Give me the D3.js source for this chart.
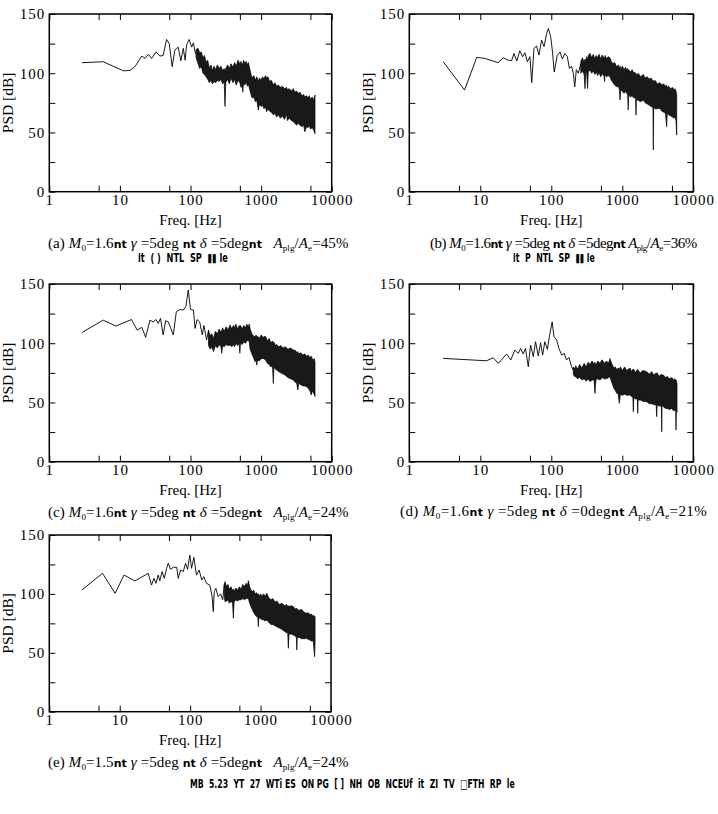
<!DOCTYPE html>
<meta charset="utf-8">
<style>
body { margin: 0; background: #fff; }
svg text { font-family: "Liberation Serif", serif; fill: #000; white-space: pre; }
.axis path { display: none; }
.axis line { stroke: #000; stroke-width: 1; }
.axis text { font-size: 15px; letter-spacing: 1px; }
.frame { fill: none; stroke: #000; stroke-width: 1.5; }
.psd { fill: none; stroke: #000; stroke-width: 0.9; }
.band { fill: #000; fill-opacity: 0.9; stroke: #000; stroke-width: 0.7; stroke-linejoin: miter; }
.nt { font-family: "DejaVu Sans", sans-serif; font-weight: bold; font-size: 11px; }
</style>
<body>
<script src="https://cdn.jsdelivr.net/npm/d3@7"></script>
<script>
// tick labels
var xMajor = [1, 10, 100, 1000, 10000];
var xMinor = [5, 50, 500, 5000];
var yMajor = [0, 50, 100, 150];
var yMinor = [25, 75, 125];

// (a) low frequency line, then the dense part as a band (freq, hi, lo)
var lineF_a = [2.9, 5.8, 11.2, 13.9, 16.3, 20.4, 22.7, 25.3, 28.1, 32.5, 36.8, 41, 45.8, 50, 55, 60, 67, 73, 79, 84, 88, 96, 104, 110, 116, 120];
var lineV_a = [108.9, 109.7, 102, 102.4, 105.5, 114.5, 112.5, 116, 112.5, 118, 114.5, 115, 128.5, 125, 105.5, 119.5, 122, 110.5, 121, 111, 124, 128.5, 122, 125.7, 118, 116];
var bandF_a = [120, 128, 135, 142, 150, 158, 166, 175, 185, 195, 205, 215, 228, 240, 255, 270, 285, 300, 308, 316, 335, 355, 375, 400, 420, 445, 470, 500, 520, 540, 550, 565, 590, 615, 640, 660, 690, 720, 750, 790, 830, 870, 912, 950, 1000, 1050, 1100, 1150, 1197, 1250, 1320, 1400, 1480, 1570, 1660, 1760, 1870, 2000, 2150, 2300, 2350, 2500, 2700, 2860, 3000, 3180, 3350, 3550, 3800, 4000, 4170, 4400, 4600, 4800, 5000, 5300, 5550, 5800];
var bandHi_a = [120, 121, 117, 118, 113, 115, 109, 111, 104, 107, 102, 106, 103, 107, 104, 106, 102, 104, 101, 104, 107, 104, 108, 105, 109, 106, 111, 108, 110, 107, 108, 111, 108, 110, 107, 109, 104, 99, 96, 98, 94, 97, 93, 96, 94, 97, 95, 98, 96, 97, 93, 94, 90, 92, 89, 90, 88, 89, 87, 88, 86, 87, 85, 87, 84, 85, 83, 84, 81, 82, 80, 81, 79, 81, 78, 80, 77, 81.6];
var bandLo_a = [113, 108, 104, 106, 100, 99, 97, 95, 92, 94, 91, 93, 92, 94, 93, 95, 91, 93, 72, 92, 95, 91, 96, 92, 95, 90, 94, 92, 88, 90, 84, 92, 90, 93, 89, 91, 86, 82, 79, 80, 76, 77, 69, 74, 72, 73, 70, 72, 67.5, 70, 68, 67, 65, 66, 63, 65, 62, 64, 61, 66, 60, 62, 60, 59, 58, 56, 58, 56, 55, 56, 50.6, 55, 54, 56, 53, 54, 52, 49];

// (b)
var lineF_b = [3.0, 6.0, 8.9, 11.6, 17.9, 21, 24.8, 27.6, 29.8, 32.6, 36, 39.4, 42.5, 46, 50, 53, 57, 62, 67, 73, 79, 86, 91, 98, 104, 110, 121, 133, 143, 155, 168, 180, 193, 204, 214, 225, 240, 260];
var lineV_b = [109.7, 85.8, 113.4, 112.5, 108.9, 113, 111, 110.5, 116.7, 110.3, 119, 114, 117.3, 109.7, 114, 92, 121, 123, 115.3, 128, 122.4, 133.6, 137.8, 130.8, 118, 101, 115, 118, 112, 116.7, 114, 104, 106, 100, 88.6, 103, 100, 108];
var bandF_b = [260, 275, 290, 298, 306, 315, 324, 332, 351, 370, 390, 410, 430, 450, 470, 495, 520, 540, 552, 562, 572, 600, 630, 671, 700, 740, 780, 834, 880, 910, 930, 950, 1000, 1060, 1110, 1153, 1190, 1210, 1230, 1300, 1380, 1450, 1500, 1540, 1560, 1580, 1680, 1800, 1977, 2100, 2250, 2400, 2550, 2700, 2735, 2770, 2900, 3100, 3390, 3600, 3850, 4050, 4220, 4290, 4500, 4800, 5100, 5350, 5520, 5700, 5840];
var bandHi_b = [110, 113, 109, 112, 110, 114, 111, 115, 116.8, 113, 116, 112, 115, 113, 116, 112, 115.3, 113, 114, 111, 115, 112, 114, 113, 110, 108, 109, 105.5, 107, 104, 106, 103, 106, 103, 105, 103, 104, 101, 103, 101, 103, 100, 101, 99, 100, 98, 100, 97, 99, 96, 97, 95, 96, 93, 94, 92, 94, 91, 92, 90, 91, 89, 90, 88, 89, 87, 88, 86, 87, 85, 81.6];
var bandLo_b = [100, 102, 99, 87, 100, 101, 87, 101, 103, 100, 102, 99, 101, 98, 101, 97, 100, 98, 99, 92.8, 99, 97, 98, 97, 94, 92, 90, 88.6, 89, 86, 77.4, 86, 85, 83, 85, 83, 82, 69, 82, 80, 81, 79, 80, 78, 64.7, 78, 77, 76, 77.4, 75, 74, 73, 72, 71, 35.2, 71, 70, 70, 70.4, 68, 67, 66, 54.9, 66, 65, 64, 63, 62, 63.3, 60, 47.8];

// (c)
var lineF_c = [2.9, 5.8, 8.8, 14.6, 17.6, 20.4, 23.2, 26.6, 29.6, 32.5, 34.9, 37.6, 41, 44.4, 48.4, 52, 57, 63, 70.7, 79, 86, 93, 100, 110, 116, 124, 135, 147, 155, 169, 180];
var lineV_c = [109, 119.5, 114.5, 120, 111, 113.4, 105, 119.5, 118, 120, 116.7, 121, 107, 119, 118, 113.4, 107, 126.6, 128.5, 128, 131, 145, 128.5, 128, 112.5, 120, 118, 107, 115, 102.7, 111];
var bandF_c = [180, 190, 200, 212, 225, 240, 255, 270, 277, 285, 300, 320, 340, 363, 385, 405, 420, 440, 465, 490, 500, 510, 540, 570, 600, 630, 659, 680, 700, 740, 780, 820, 850, 870, 890, 940, 1000, 1075, 1150, 1230, 1300, 1380, 1450, 1490, 1520, 1600, 1660, 1780, 1900, 2050, 2200, 2400, 2600, 2860, 3050, 3200, 3310, 3420, 3650, 3900, 4150, 4420, 4650, 4900, 5130, 5300, 5500, 5650, 5800];
var bandHi_c = [111, 106, 108, 104, 110, 108, 112, 109, 111, 113, 110, 114, 111, 115.4, 112, 115, 113, 116, 112, 115, 113, 115, 112, 115, 113, 116, 114, 116.2, 112, 108, 106, 105.5, 107, 104, 106, 104, 107, 105, 106, 102, 104, 100, 102, 100, 101, 98, 99, 97, 98, 96, 97, 95, 96, 94.3, 94, 92, 93, 91, 92, 90, 91, 89, 90, 88, 89, 87, 86, 87, 84.4];
var bandLo_c = [98, 95, 97, 93, 98, 96, 99, 97, 91.5, 98, 97, 99, 98, 98.5, 97, 99, 97, 100, 98, 100, 91.5, 100, 99, 101, 100, 102, 102.7, 101, 95, 91, 88, 84.4, 86, 81.6, 86, 85, 87, 87.2, 86, 83, 82, 80, 81, 66, 80, 78, 77.4, 76, 75, 74, 73, 71, 70, 69, 67, 66, 60.5, 66, 65, 64, 64, 63.3, 62, 60, 56.3, 60, 58, 57, 55];

// (d)
var lineF_d = [3.0, 12.3, 15.2, 17.9, 23.5, 26.8, 30.6, 34.2, 37, 40.2, 43.3, 47.4, 51, 55.8, 60, 65.5, 70.7, 75.5, 81, 88, 95.6, 103, 109, 119, 128, 140, 152, 164, 177, 193, 204];
var lineV_d = [87.2, 85.2, 87.8, 83, 90.9, 85.8, 94.2, 91.4, 95.6, 90.9, 95.6, 80.2, 98.5, 88.6, 101.3, 89.2, 100.4, 90, 101.3, 94.8, 108.3, 118, 105.5, 102.7, 95.6, 90, 91.4, 85.8, 88, 80.2, 77.4];
var bandF_d = [204, 212, 221, 235, 250, 270, 290, 310, 330, 351, 375, 400, 412, 425, 450, 485, 520, 560, 600, 640, 671, 700, 720, 760, 800, 834, 870, 908, 940, 1000, 1080, 1150, 1283, 1350, 1410, 1430, 1450, 1530, 1630, 1650, 1670, 1800, 1950, 2207, 2400, 2600, 2800, 3000, 3050, 3100, 3300, 3550, 3590, 3630, 3800, 4050, 4300, 4600, 5000, 5250, 5520, 5650, 5710, 5770, 5900];
var bandHi_d = [80, 78, 81, 78, 82, 79, 83, 80, 84, 82, 85, 82, 84, 81, 85, 83, 86, 83, 85, 83, 87, 84, 82, 79, 80, 77.4, 79, 78, 80, 77, 80, 77, 79, 76, 78, 77, 78, 75, 78, 76, 77, 75, 77, 76, 74, 76, 73, 75, 74, 75, 72, 74, 73, 73, 73.2, 71, 72, 70, 71, 69, 70, 68, 69, 68, 66];
var bandLo_d = [74, 72, 71.7, 70, 71, 69, 70, 68, 70, 67.5, 69, 69, 57.7, 69, 70, 69, 71, 70, 70, 71, 71.7, 68, 66, 62, 60, 57.7, 58, 49.3, 57, 56, 57, 56, 56.3, 55, 54, 42.2, 54, 53, 53, 40.8, 52, 52, 51, 50.6, 49, 49, 48, 48, 38, 48, 47, 47, 25.3, 47, 46.4, 45, 45, 44, 45, 43, 43.6, 43, 26.7, 43, 42];

// (e)
var lineF_e = [2.9, 5.7, 8.6, 11.5, 16.4, 25.4, 28.3, 30.6, 32.7, 35.2, 37.1, 40, 42.9, 46.3, 48.9, 52.6, 57.6, 64.4, 67.7, 73.1, 79.9, 86, 92, 99, 104.6, 113, 123, 134, 146, 156, 171, 190, 205, 213, 220, 232, 250, 270, 290, 305];
var lineV_e = [103.3, 117.5, 100.5, 116, 111, 117.5, 107.5, 113.2, 109, 116, 111.2, 118.9, 113.2, 121.7, 126, 120.9, 122.6, 122.6, 113.2, 120.3, 118.9, 126, 120.9, 133, 121.7, 131, 116, 120.3, 111.8, 114.6, 109, 107.5, 98, 85, 101.9, 104.7, 97.6, 100, 95, 108];
var bandF_e = [305, 313, 330, 345, 360, 380, 400, 411, 420, 445, 470, 500, 530, 560, 590, 620, 650, 671, 700, 720, 760, 800, 840, 883, 915, 930, 945, 1000, 1050, 1100, 1160, 1225, 1300, 1400, 1500, 1600, 1700, 1850, 2000, 2200, 2350, 2430, 2480, 2530, 2700, 2930, 3100, 3220, 3270, 3320, 3550, 3800, 4050, 4300, 4530, 4800, 5000, 5250, 5450, 5600, 5850, 5940];
var bandHi_e = [108, 110.4, 106, 108, 104, 106, 103, 104, 102, 105, 103, 106, 104, 108, 106, 109, 107, 111.2, 106, 104, 102, 103, 100, 101, 99, 100, 98, 100, 98, 100, 98, 100.5, 97, 95, 96, 93, 94, 91, 92, 90, 91, 89, 90, 89, 90, 89.1, 87, 88, 87, 87, 86, 87, 85, 84, 83.5, 84, 82, 83, 81, 82, 81, 80.6];
var bandLo_e = [98, 93.4, 94, 95, 92, 94, 92, 79.3, 93, 95, 94, 95, 95, 96, 95, 96, 96, 96.3, 92, 90, 87, 84, 82, 80.6, 80, 72.2, 80, 79, 78, 78, 77, 77.8, 76, 74, 74, 73, 72.2, 71, 70, 68, 67, 67, 53.8, 66, 66, 65.1, 64, 64, 52.4, 63, 63, 62, 62, 62, 62.3, 61, 61, 60, 60, 60, 46.7, 59.4];

var svg = d3.select("body").append("svg")
  .attr("width", 718)
  .attr("height", 814);

// squeeze a line of text horizontally to a given width
function squeezed(x0, y0, w, size, str) {
  var t = svg.append("text").attr("class", "nt").style("font-size", size + "px").text(str);
  var len = t.node().getComputedTextLength();
  t.attr("transform", "translate(" + x0 + "," + y0 + ") scale(" + (w / len) + ",1)");
  return t;
}

function drawPanel(p) {
  var x = d3.scaleLog().domain([1, 10000]).range([p.left, p.right]);
  var y = d3.scaleLinear().domain([0, 150]).range([p.bottom, p.top]);
  var g = svg.append("g");

  var xFmt = function(d) { return xMajor.indexOf(d) >= 0 ? d : ""; };
  var yFmt = function(d) { return yMajor.indexOf(d) >= 0 ? d : ""; };
  var xTicks = xMajor.concat(xMinor);
  var yTicks = yMajor.concat(yMinor);

  g.append("g").attr("class", "axis")
    .attr("transform", "translate(0," + p.bottom + ")")
    .call(d3.axisBottom(x).tickValues(xTicks).tickFormat(xFmt).tickSize(-6).tickPadding(3));
  g.append("g").attr("class", "axis")
    .attr("transform", "translate(0," + p.top + ")")
    .call(d3.axisTop(x).tickValues(xTicks).tickFormat("").tickSize(-6));
  g.append("g").attr("class", "axis")
    .attr("transform", "translate(" + p.left + ",0)")
    .call(d3.axisLeft(y).tickValues(yTicks).tickFormat(yFmt).tickSize(-6).tickPadding(4));
  g.append("g").attr("class", "axis")
    .attr("transform", "translate(" + p.right + ",0)")
    .call(d3.axisRight(y).tickValues(yTicks).tickFormat("").tickSize(-6));

  var lineData = p.lineF.map(function(f, i) { return {f: f, v: p.lineV[i]}; });
  var bandData = p.bandF.map(function(f, i) { return {f: f, hi: p.bandHi[i], lo: p.bandLo[i]}; });

  g.append("path").attr("class", "band")
    .attr("d", d3.area()
      .x(function(d) { return x(d.f); })
      .y0(function(d) { return y(d.lo); })
      .y1(function(d) { return y(d.hi); })(bandData));
  g.append("path").attr("class", "psd")
    .attr("d", d3.line()
      .x(function(d) { return x(d.f); })
      .y(function(d) { return y(d.v); })(lineData));

  g.append("rect").attr("class", "frame")
    .attr("x", p.left).attr("y", p.top)
    .attr("width", p.right - p.left).attr("height", p.bottom - p.top);

  // axis titles
  g.append("text")
    .attr("x", (p.left + p.right) / 2)
    .attr("y", p.bottom + 33.5)
    .attr("text-anchor", "middle")
    .style("font-size", "15px")
    .text("Freq. [Hz]");
  g.append("text")
    .attr("transform", "translate(" + (p.left - 36) + "," + ((p.top + p.bottom) / 2) + ") rotate(-90)")
    .attr("text-anchor", "middle")
    .style("font-size", "15.5px")
    .text("PSD [dB]");

  // caption
  var t = g.append("text").attr("x", p.capX).attr("y", p.capY)
    .style("font-size", "15px")
    .style("letter-spacing", p.capLs + "px");
  t.append("tspan").text("(" + p.tag + ") ");
  t.append("tspan").style("font-style", "italic").text("M");
  t.append("tspan").attr("dy", 3).style("font-size", "9px").text("0");
  t.append("tspan").attr("dy", -3).text("=" + p.mach);
  t.append("tspan").attr("class", "nt").text("nt");
  t.append("tspan").style("font-style", "italic").text(" γ");
  t.append("tspan").text(" =5deg ");
  t.append("tspan").attr("class", "nt").text("nt");
  t.append("tspan").style("font-style", "italic").text(" δ");
  t.append("tspan").text(" =" + p.delta + "deg");
  t.append("tspan").attr("class", "nt").text("nt");
  t.append("tspan").style("font-style", "italic").text(p.gap + "A");
  t.append("tspan").attr("dy", 3).style("font-size", "9px").text("plg");
  t.append("tspan").attr("dy", -3).text("/");
  t.append("tspan").style("font-style", "italic").text("A");
  t.append("tspan").attr("dy", 3).style("font-size", "9px").text("e");
  t.append("tspan").attr("dy", -3).text("=" + p.ratio + "%");

  if (p.sub) squeezed(p.subX, p.capY + 14.6, p.subW, 12, p.sub);
}

var panels = [
  {tag: "a", left: 49.3, right: 331.7, top: 14, bottom: 191.7, lineF: lineF_a, lineV: lineV_a, bandF: bandF_a, bandHi: bandHi_a, bandLo: bandLo_a,
   mach: "1.6", delta: "5", ratio: "45", gap: "   ", capX: 48, capY: 247.5, capLs: 0.1, sub: "it  ( )  NTL  SP  ▮▮ le", subX: 138, subW: 90},
  {tag: "b", left: 409.3, right: 693.3, top: 14, bottom: 191.7, lineF: lineF_b, lineV: lineV_b, bandF: bandF_b, bandHi: bandHi_b, bandLo: bandLo_b,
   mach: "1.6", delta: "5", ratio: "36", gap: " ", capX: 430, capY: 247.5, capLs: -0.5, sub: "it  P  NTL  SP  ▮▮ le", subX: 513, subW: 82},
  {tag: "c", left: 49.3, right: 331.7, top: 284, bottom: 461.7, lineF: lineF_c, lineV: lineV_c, bandF: bandF_c, bandHi: bandHi_c, bandLo: bandLo_c,
   mach: "1.6", delta: "5", ratio: "24", gap: "   ", capX: 48, capY: 517, capLs: 0.1},
  {tag: "d", left: 409.3, right: 693.3, top: 284, bottom: 461.7, lineF: lineF_d, lineV: lineV_d, bandF: bandF_d, bandHi: bandHi_d, bandLo: bandLo_d,
   mach: "1.6", delta: "0", ratio: "21", gap: " ", capX: 400, capY: 516, capLs: 0.4},
  {tag: "e", left: 49.3, right: 331, top: 535, bottom: 711.7, lineF: lineF_e, lineV: lineV_e, bandF: bandF_e, bandHi: bandHi_e, bandLo: bandLo_e,
   mach: "1.5", delta: "5", ratio: "24", gap: "   ", capX: 48, capY: 767, capLs: 0.1}
];

panels.forEach(drawPanel);

// figure caption
squeezed(190, 787.5, 325, 13, "MB  5.23  YT  27  WTi ES  ON PG  [ ]  NH  OB  NCEUf  it  ZI  TV  □FTH  RP  le");
</script>
</body>
